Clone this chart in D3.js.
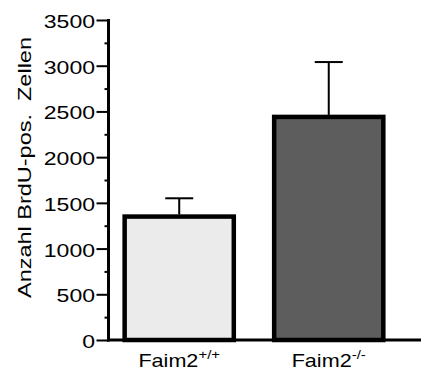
<!DOCTYPE html>
<html>
<head>
<meta charset="utf-8">
<script src="https://cdn.jsdelivr.net/npm/d3@7"></script>
<style>
  body { margin: 0; background: #fff; }
  text { font-family: "Liberation Sans", Arial, Helvetica, sans-serif; }
</style>
</head>
<body>
<div id="container"></div>
<script>
// data
const groups = ['Faim2+/+', 'Faim2-/-']
const groupSup = ['+/+', '-/-']
const means = [1350, 2440]
const errors = [200, 600]   // upper error (SEM) above the bar
const yTicks = [0, 500, 1000, 1500, 2000, 2500, 3000, 3500]
const yMinorTicks = [250, 750, 1250, 1750, 2250, 2750, 3250]
const barColors = ['#ebebeb', '#5d5d5d']

const width = 425
const height = 369
const axisX = 108.5
const axisY = 340
const stretch = 1.28 // the original font is a bit wide

const svg = d3.select('#container').append('svg')
    .attr('width', width)
    .attr('height', height)

// scales
const y = d3.scaleLinear()
    .domain([0, 3500])
    .range([axisY, 20])

const x = d3.scaleBand()
    .domain(groups)
    .range([axisX, 421])
    .paddingInner(0.27)
    .paddingOuter(0.18)
    .align(0.3)

// bars
svg.append('g')
  .selectAll('rect')
  .data(groups)
  .enter()
  .append('rect')
    .attr('x', d => x(d))
    .attr('y', (d, i) => y(means[i]))
    .attr('width', x.bandwidth())
    .attr('height', (d, i) => axisY - y(means[i]))
    .attr('fill', (d, i) => barColors[i])
    .attr('stroke', '#000')
    .attr('stroke-width', 4.5)

// error bars (upper only)
const err = svg.append('g').attr('stroke', '#000').attr('stroke-width', 2)
groups.forEach((g, i) => {
  const cx = x(g) + x.bandwidth() / 2
  err.append('line')
    .attr('x1', cx).attr('x2', cx)
    .attr('y1', y(means[i]) - 2).attr('y2', y(means[i] + errors[i]))
  err.append('line')
    .attr('x1', cx - 14).attr('x2', cx + 14)
    .attr('y1', y(means[i] + errors[i])).attr('y2', y(means[i] + errors[i]))
})

// x axis - just the baseline, labels drawn below
const bottomAxis = svg.append('g')
    .attr('transform', `translate(0,${axisY})`)
    .call(d3.axisBottom(x).tickSize(0).tickSizeOuter(0).tickFormat(''))
bottomAxis.select('.domain')
    .attr('stroke-width', 3)
    .attr('d', `M${axisX - 1.5},0H421`)

groups.forEach((g, i) => {
  const t = svg.append('text')
    .attr('transform', `translate(${x(g) + x.bandwidth() / 2},366.5) scale(1.2,1)`)
    .attr('text-anchor', 'middle')
    .style('font-size', '18px')
    .attr('fill', '#000')
  t.append('tspan').text('Faim2')
  t.append('tspan')
    .attr('dy', -7.5)
    .style('font-size', '12.5px')
    .text(groupSup[i])
})

// minor ticks
svg.append('g')
    .attr('transform', `translate(${axisX},0)`)
    .call(d3.axisLeft(y).tickValues(yMinorTicks).tickSize(4).tickFormat(''))
  .call(g => g.select('.domain').remove())
  .selectAll('line')
    .attr('stroke-width', 2)

// y axis
const leftAxis = svg.append('g')
    .attr('transform', `translate(${axisX},0)`)
    .call(d3.axisLeft(y).tickValues(yTicks).tickSize(12).tickSizeOuter(0).tickFormat(d3.format('d')))
leftAxis.select('.domain')
    .attr('stroke-width', 3)
    .attr('d', `M0,${y(3500) - 1}V${axisY + 1.5}`)
leftAxis.selectAll('.tick line')
    .attr('stroke-width', 2)
leftAxis.selectAll('.tick text')
    .attr('x', 0)
    .attr('dy', '0.42em')
    .attr('transform', `translate(-13.5,0) scale(${stretch},1)`)
    .attr('fill', '#000')
    .style('font-size', '18px')
    .style('font-family', '"Liberation Sans", Arial, Helvetica, sans-serif')

// y label
svg.append('text')
    .attr('transform', `translate(30.5,167.5) rotate(-90) scale(1.27,1)`)
    .attr('text-anchor', 'middle')
    .style('font-size', '18.5px')
    .style('white-space', 'pre')
    .attr('fill', '#000')
    .text('Anzahl BrdU-pos.  Zellen')
</script>
</body>
</html>
